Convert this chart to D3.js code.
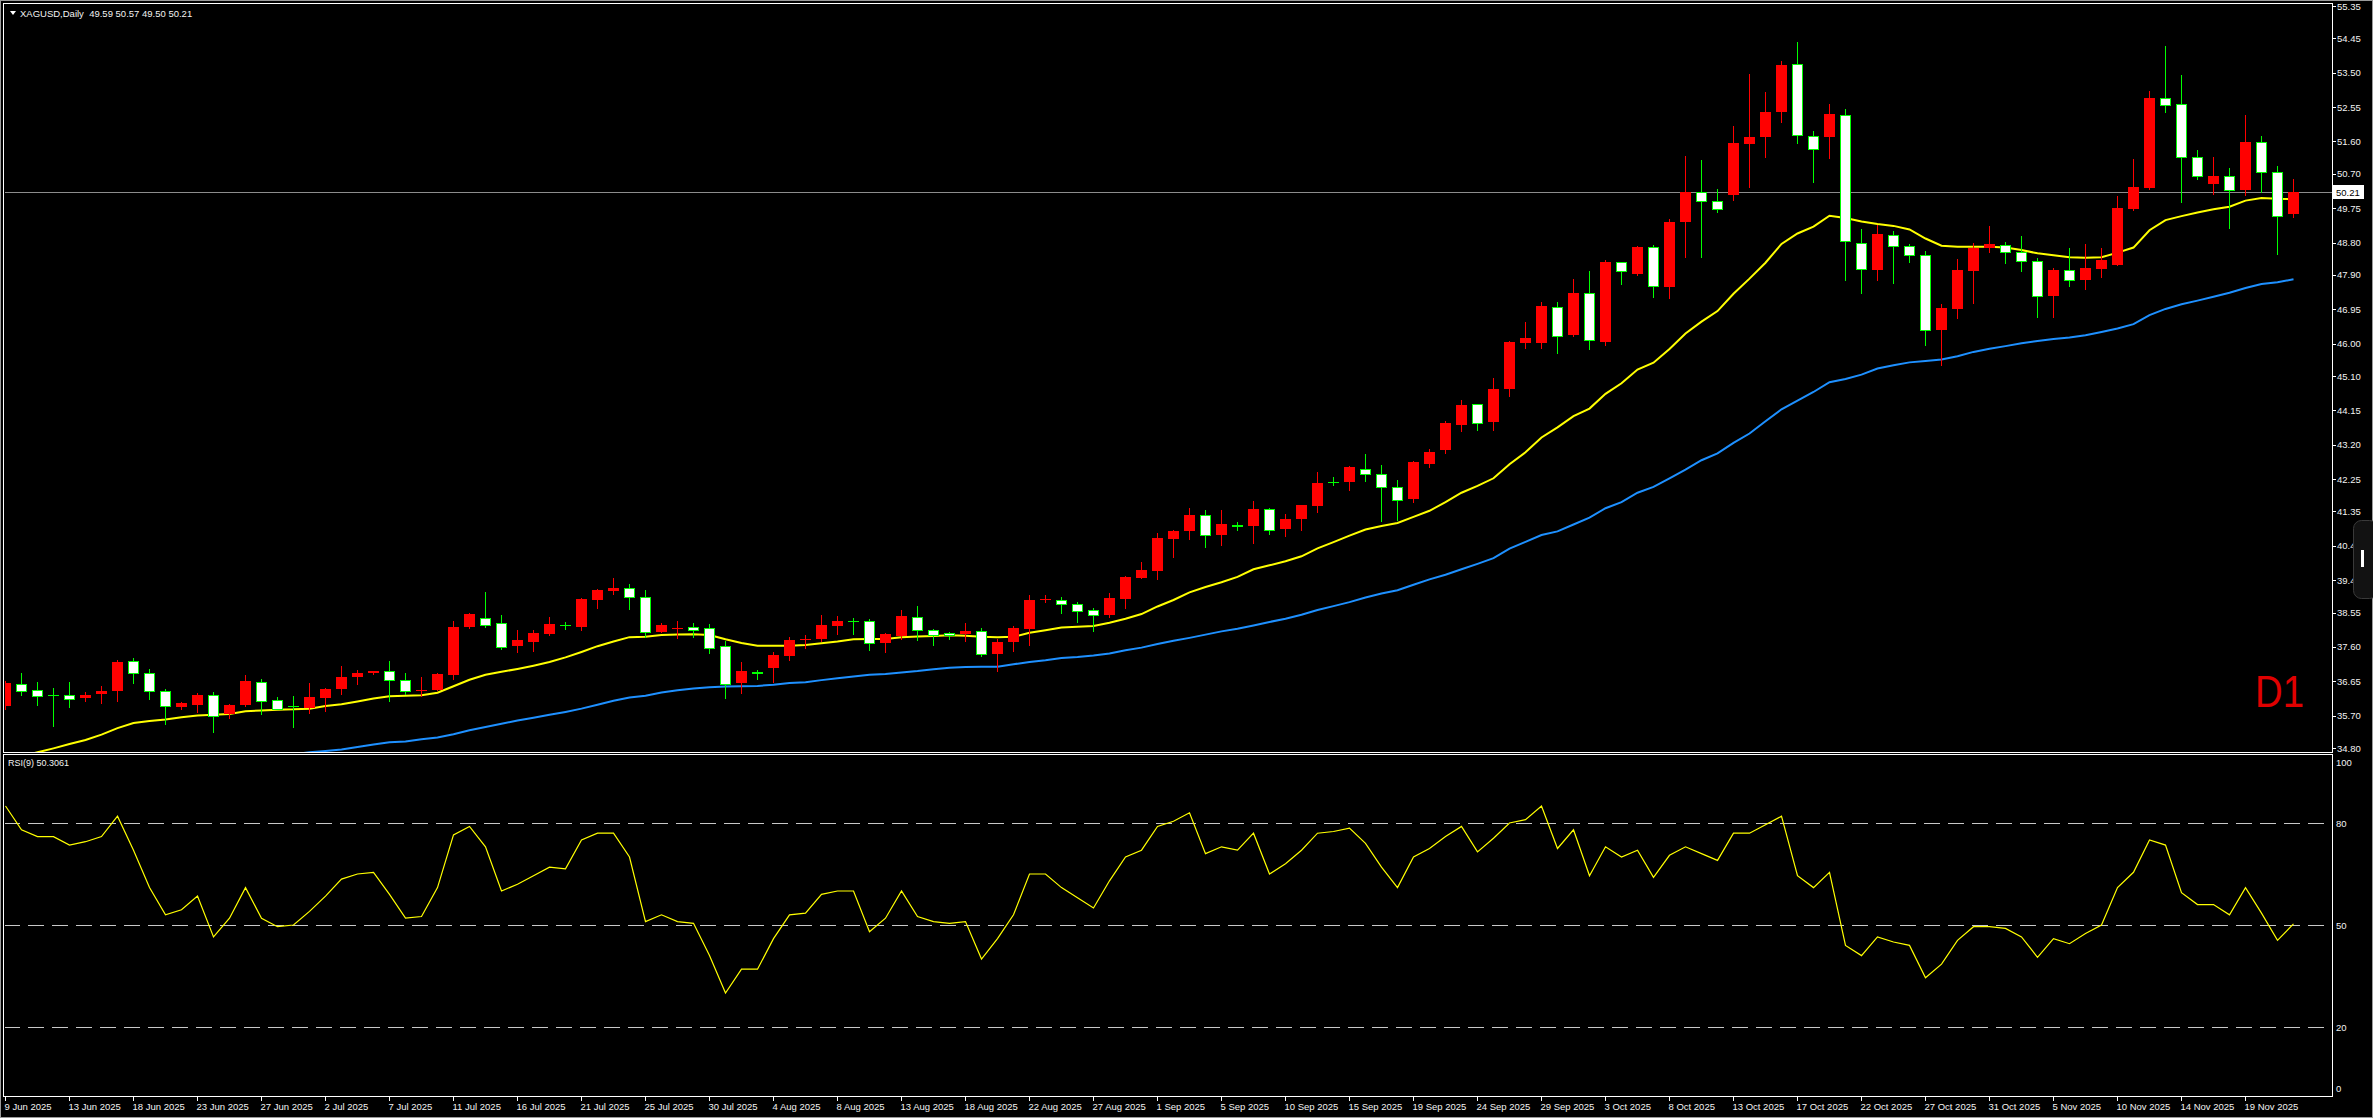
<!DOCTYPE html>
<html><head><meta charset="utf-8">
<script src="https://cdn.jsdelivr.net/npm/d3@7"></script>
<style>html,body{margin:0;padding:0;background:#000;overflow:hidden}svg{display:block}</style>
</head><body><svg id="c" width="2373" height="1118"></svg>
<script>
// ---------------- DATA ----------------
const opens=[35.97,36.58,36.42,36.27,36.26,36.19,36.30,36.39,37.20,36.89,36.37,35.94,36.00,36.28,35.74,35.99,36.64,36.12,35.96,35.91,
36.19,36.44,36.76,36.87,36.92,36.67,36.39,36.41,36.82,38.15,38.39,38.25,37.63,37.74,37.96,38.22,38.15,38.91,39.14,39.22,
38.97,38.02,38.10,38.14,38.11,37.62,36.60,36.90,37.02,37.35,37.82,37.82,38.18,38.32,38.33,37.71,37.90,38.44,38.06,37.98,
37.96,38.03,37.41,37.74,38.09,38.91,38.91,38.78,38.61,38.49,38.92,39.51,39.71,40.59,40.82,41.24,40.71,40.97,40.95,41.41,
40.87,41.15,41.51,42.18,42.17,42.54,42.40,42.02,41.69,42.67,43.04,43.75,44.32,43.82,44.73,46.02,46.02,47.01,46.23,47.39,
46.04,48.27,47.93,48.67,47.58,49.36,50.21,49.96,50.12,51.54,51.73,52.41,53.73,51.76,51.73,52.34,48.80,48.05,49.02,48.69,
48.44,46.38,46.97,48.02,48.65,48.72,48.55,48.28,47.33,48.03,47.77,48.07,48.18,49.73,50.31,52.79,52.63,51.16,50.43,50.63,
50.26,51.57,50.74,49.59];
const highs=[36.65,36.87,36.62,36.45,36.62,36.34,36.52,37.23,37.29,36.99,36.43,36.08,36.32,36.35,36.03,36.82,36.70,36.21,36.24,36.60,
36.47,37.07,36.96,36.94,37.21,36.87,36.76,36.87,38.31,38.55,39.12,38.48,38.07,38.07,38.42,38.29,38.95,39.20,39.51,39.34,
39.17,38.26,38.31,38.26,38.23,37.76,37.18,36.96,37.45,37.87,37.92,38.48,38.45,38.40,38.37,37.98,38.62,38.73,38.10,38.01,
38.26,38.12,37.81,38.19,39.03,39.03,38.98,38.84,38.69,39.09,39.57,39.95,40.75,40.84,41.44,41.39,41.39,41.07,41.64,41.44,
41.28,41.53,42.44,42.30,42.61,42.94,42.63,42.21,42.76,43.08,43.87,44.44,44.32,45.04,46.08,46.60,47.14,47.16,47.79,48.01,
48.31,48.27,48.70,48.72,49.45,51.19,51.08,50.29,52.02,53.46,52.97,53.82,54.35,51.89,52.64,52.49,49.17,49.28,49.12,48.76,
48.56,47.09,48.34,48.78,49.26,48.81,48.98,48.37,48.09,48.66,48.76,48.66,50.09,51.11,52.99,54.24,53.44,51.36,51.17,50.86,
52.33,51.75,50.92,50.57];
const lows=[35.88,36.27,36.00,35.41,35.94,36.11,36.05,36.11,36.60,36.16,35.47,35.89,35.80,35.25,35.64,35.97,35.75,35.87,35.38,35.77,
35.83,36.29,36.58,36.85,36.11,36.29,36.25,36.40,36.72,38.12,38.16,37.55,37.47,37.49,37.93,38.10,38.07,38.67,39.07,38.65,
37.88,38.00,37.85,37.88,37.44,36.19,36.32,36.72,36.62,37.23,37.58,37.76,37.95,37.95,37.51,37.46,37.81,37.79,37.65,37.82,
37.76,37.35,36.94,37.49,37.66,38.85,38.55,38.30,38.05,38.43,38.67,39.51,39.49,40.10,40.59,40.37,40.43,40.84,40.48,40.73,
40.68,40.84,41.34,42.08,41.94,42.19,41.08,41.11,41.62,42.59,42.98,43.59,43.61,43.61,44.56,45.89,45.89,45.75,46.20,45.86,
45.97,47.65,47.91,47.30,47.27,48.40,48.40,49.65,49.98,50.34,51.17,52.15,51.56,50.48,51.14,47.76,47.40,47.76,47.69,48.27,
45.97,45.41,46.72,47.13,48.54,48.24,48.02,46.74,46.74,47.60,47.52,47.85,48.18,49.70,50.29,52.41,49.93,50.56,50.15,49.21,
50.12,50.20,48.49,49.50];
const closes=[36.61,36.39,36.25,36.26,36.17,36.26,36.37,37.18,36.87,36.37,35.95,36.04,36.26,35.68,35.99,36.65,36.09,35.89,35.95,36.21,
36.43,36.76,36.87,36.92,36.67,36.37,36.40,36.85,38.15,38.51,38.22,37.60,37.79,37.98,38.23,38.21,38.92,39.17,39.23,38.97,
38.02,38.20,38.11,38.08,37.58,36.58,36.93,36.89,37.37,37.79,37.83,38.20,38.31,38.31,37.71,37.95,38.45,38.06,37.94,37.94,
38.04,37.41,37.73,38.12,38.90,38.92,38.78,38.60,38.47,38.95,39.53,39.73,40.61,40.81,41.25,40.71,40.99,40.96,41.42,40.85,
41.14,41.53,42.14,42.17,42.58,42.38,42.02,41.68,42.72,43.00,43.80,44.30,43.79,44.75,46.04,46.16,47.04,46.22,47.40,46.09,
48.26,48.00,48.67,47.59,49.36,50.20,49.94,49.74,51.56,51.72,52.41,53.71,51.79,51.38,52.36,48.83,48.06,49.04,48.69,48.44,
46.39,46.98,48.04,48.66,48.76,48.53,48.28,47.33,48.04,47.75,48.09,48.31,49.75,50.34,52.80,52.60,51.16,50.63,50.64,50.26,
51.57,50.74,49.54,50.21];
// yellow moving average (values below 34.80 are off-scale)
const maFast=[34.45,34.58,34.68,34.79,34.91,35.02,35.17,35.35,35.49,35.55,35.59,35.65,35.70,35.72,35.74,35.82,35.84,35.86,35.87,35.89,
35.96,36.01,36.09,36.17,36.23,36.25,36.26,36.33,36.51,36.69,36.83,36.91,36.99,37.08,37.18,37.31,37.46,37.62,37.75,37.87,
37.88,37.93,37.94,37.95,37.93,37.81,37.71,37.63,37.63,37.63,37.65,37.70,37.75,37.81,37.82,37.82,37.87,37.89,37.90,37.92,
37.91,37.88,37.87,37.88,37.99,38.06,38.14,38.16,38.18,38.27,38.38,38.51,38.72,38.90,39.11,39.26,39.39,39.54,39.75,39.86,
39.97,40.11,40.33,40.50,40.68,40.85,40.95,41.03,41.20,41.37,41.61,41.87,42.06,42.27,42.66,42.99,43.40,43.68,43.99,44.20,
44.61,44.90,45.28,45.47,45.85,46.28,46.61,46.90,47.38,47.80,48.24,48.76,49.05,49.24,49.54,49.48,49.38,49.31,49.26,49.16,
48.91,48.71,48.68,48.68,48.68,48.66,48.59,48.50,48.45,48.39,48.38,48.39,48.52,48.66,49.14,49.42,49.53,49.63,49.72,49.79,
49.96,50.03,50.01,50.00];
// blue moving average
const maSlow=[null,null,null,null,null,null,null,null,null,null,null,null,null,null,null,null,null,34.58,34.63,34.68,
34.72,34.76,34.83,34.90,34.96,34.98,35.04,35.09,35.18,35.29,35.38,35.47,35.56,35.64,35.72,35.80,35.89,36.00,36.11,36.20,
36.25,36.34,36.40,36.45,36.48,36.50,36.51,36.52,36.55,36.60,36.62,36.68,36.73,36.78,36.83,36.85,36.89,36.93,36.98,37.02,
37.04,37.05,37.05,37.12,37.18,37.23,37.29,37.32,37.36,37.42,37.51,37.58,37.68,37.77,37.85,37.94,38.03,38.10,38.19,38.29,
38.38,38.49,38.62,38.73,38.84,38.97,39.08,39.17,39.32,39.47,39.60,39.75,39.90,40.06,40.32,40.51,40.70,40.80,40.99,41.18,
41.44,41.61,41.87,42.03,42.27,42.51,42.77,42.96,43.25,43.51,43.85,44.18,44.42,44.66,44.93,45.02,45.14,45.31,45.40,45.48,
45.52,45.56,45.65,45.77,45.86,45.93,46.01,46.07,46.13,46.17,46.23,46.32,46.42,46.54,46.79,46.96,47.09,47.19,47.30,47.41,
47.54,47.65,47.70,47.78];
// RSI(9)
const rsi=[85,78,76,76,73.5,74.5,76,82,72,61,53,54.5,58.5,46.5,52,61,52,49.5,50,54,
58.5,63.5,65,65.5,59,52,52.5,61,76.5,79,73,60,62,64.5,67,66.5,75,77,77,70,
51,53,51,50.5,41,30,37,37,46,53,53.5,59,60,60,48,52,60,52.5,51,50.5,
51,40,46,53,65,65,61,58,55,63,70,72,79,80.5,83,71,73,72,77,65,
68,72,77,77.5,78.5,74,67,61,70,72.5,76,79,71.5,75.5,80,81,85,72.5,78,64.5,
73,70,72,64,70.5,73,71,69,77,77,79.5,82,64.5,61,65.5,44,41,46.5,45,44,
34.5,38.5,45.5,49.5,49.5,49,46.5,40.5,46,44.5,47.5,50,61,65.5,75,73.5,59.5,56,56,53,
61,53.5,45.5,50.31];
const dateLabels=["9 Jun 2025","13 Jun 2025","18 Jun 2025","23 Jun 2025","27 Jun 2025","2 Jul 2025","7 Jul 2025","11 Jul 2025",
"16 Jul 2025","21 Jul 2025","25 Jul 2025","30 Jul 2025","4 Aug 2025","8 Aug 2025","13 Aug 2025","18 Aug 2025","22 Aug 2025",
"27 Aug 2025","1 Sep 2025","5 Sep 2025","10 Sep 2025","15 Sep 2025","19 Sep 2025","24 Sep 2025","29 Sep 2025","3 Oct 2025",
"8 Oct 2025","13 Oct 2025","17 Oct 2025","22 Oct 2025","27 Oct 2025","31 Oct 2025","5 Nov 2025","10 Nov 2025","14 Nov 2025","19 Nov 2025"];
const priceTicks=[55.35,54.45,53.50,52.55,51.60,50.70,49.75,48.80,47.90,46.95,46.00,45.10,44.15,43.20,42.25,41.35,40.40,39.45,38.55,37.60,36.65,35.70,34.80];
const rsiTicks=[100,80,50,20,0];
const rsiLevels=[80,50,20];
const symbolTitle="XAGUSD,Daily";
const lastPrice=50.21;
const rsiTitle="RSI(9) 50.3061";
const tfLabel="D1";

// ---------------- LAYOUT ----------------
const svg=d3.select('#c');
const FONT="'Liberation Sans', Arial, sans-serif";
const L=4,R=2332,mT=4,mB=752,rT=755,rB=1096;
const x=d3.scaleLinear().domain([0,1]).range([5.5,21.5]);
const y=d3.scaleLinear().domain([34.80,55.35]).range([748,6]);
const yr=d3.scaleLinear().domain([0,100]).range([1095,755]);
const n=closes.length;
const bars=d3.range(n).map(i=>({i,o:opens[i],h:highs[i],l:lows[i],c:closes[i]}));

svg.append('rect').attr('width',2373).attr('height',1118).attr('fill','#000');
const defs=svg.append('defs');
defs.append('clipPath').attr('id','cm').append('rect').attr('x',L+1).attr('y',mT+1).attr('width',R-L-1).attr('height',mB-mT-1);
defs.append('clipPath').attr('id','cr').append('rect').attr('x',L+1).attr('y',rT+1).attr('width',R-L-1).attr('height',rB-rT-1);

// frames
svg.append('rect').attr('x',0.5).attr('y',0.5).attr('width',2372).attr('height',1117).attr('fill','none').attr('stroke','#9a9a9a');
svg.append('rect').attr('x',L-0.5).attr('y',mT-0.5).attr('width',R-L+1).attr('height',mB-mT+1).attr('fill','none').attr('stroke','#fff');
svg.append('rect').attr('x',L-0.5).attr('y',rT-0.5).attr('width',R-L+1).attr('height',rB-rT+1).attr('fill','none').attr('stroke','#fff');

// main chart
const gm=svg.append('g').attr('clip-path','url(#cm)');
gm.append('line').attr('x1',L).attr('x2',R).attr('y1',Math.round(y(lastPrice))+0.5).attr('y2',Math.round(y(lastPrice))+0.5).attr('stroke','#8c8c8c');

const lineM=arr=>d3.line().defined(d=>d!=null).x((d,i)=>x(i)).y(d=>y(d))(arr);
gm.append('path').attr('d',lineM(maSlow)).attr('fill','none').attr('stroke','#1e90ff').attr('stroke-width',2);
gm.append('path').attr('d',lineM(maFast)).attr('fill','none').attr('stroke','#ffff00').attr('stroke-width',2);

const cg=gm.selectAll('g.bar').data(bars).join('g').attr('class','bar');
cg.append('line').attr('x1',d=>x(d.i)).attr('x2',d=>x(d.i))
  .attr('y1',d=>Math.round(y(d.h))).attr('y2',d=>Math.round(y(d.l))+1)
  .attr('stroke',d=>d.c>d.o?'#ff0000':'#00ff00');
cg.filter(d=>d.c>d.o).append('rect')
  .attr('x',d=>x(d.i)-5.5).attr('width',11)
  .attr('y',d=>Math.round(y(d.c))).attr('height',d=>Math.max(1,Math.round(y(d.o))-Math.round(y(d.c))))
  .attr('fill','#ff0000');
cg.filter(d=>d.c<=d.o).append('rect')
  .attr('x',d=>x(d.i)-5).attr('width',10)
  .attr('y',d=>Math.round(y(d.o))+0.5).attr('height',d=>Math.max(0.01,Math.round(y(d.c))-Math.round(y(d.o))))
  .attr('fill','#fff').attr('stroke','#00ff00').attr('stroke-width',1);

// price axis
const pa=svg.append('g').attr('font-family',FONT).attr('font-size',9.5).attr('fill','#f2f2f2');
pa.selectAll('line').data(priceTicks).join('line')
  .attr('x1',R).attr('x2',R+4).attr('y1',d=>Math.round(y(d))+0.5).attr('y2',d=>Math.round(y(d))+0.5).attr('stroke','#fff');
pa.selectAll('text').data(priceTicks).join('text')
  .attr('x',R+5).attr('y',d=>y(d)+3.5).text(d=>d.toFixed(2));
const ly=Math.round(y(lastPrice));
svg.append('rect').attr('x',R+1).attr('y',ly-7).attr('width',31).attr('height',14).attr('fill','#fff');
svg.append('text').attr('x',R+4).attr('y',ly+4).attr('font-family',FONT).attr('font-size',9.5).attr('fill','#000').text(lastPrice.toFixed(2));

// header
svg.append('path').attr('d','M10,11 L16,11 L13,15 Z').attr('fill','#fff');
svg.append('text').attr('x',20).attr('y',17).attr('font-family',FONT).attr('font-size',9.5).attr('fill','#f2f2f2')
  .attr('xml:space','preserve')
  .text(symbolTitle+'  '+[opens[n-1],highs[n-1],lows[n-1],closes[n-1]].map(v=>v.toFixed(2)).join(' '));
// timeframe label
svg.append('text').attr('x',2255).attr('y',707).attr('font-family',FONT)
  .attr('font-size',44).attr('textLength',49).attr('lengthAdjust','spacingAndGlyphs').attr('fill','#e00000').text(tfLabel);

// scroll grip
svg.append('rect').attr('x',2353.5).attr('y',520.5).attr('width',24).attr('height',78).attr('rx',8).attr('fill','#121212').attr('stroke','#3a3a3a');
svg.append('rect').attr('x',2361).attr('y',550).attr('width',3).attr('height',17).attr('fill','#fff');

// RSI panel
const gr=svg.append('g').attr('clip-path','url(#cr)');
gr.selectAll('line.lv').data(rsiLevels).join('line').attr('class','lv')
  .attr('x1',L).attr('x2',R).attr('y1',d=>Math.round(yr(d))+0.5).attr('y2',d=>Math.round(yr(d))+0.5)
  .attr('stroke','#c8c8c8').attr('stroke-dasharray','16,8');
gr.append('path').attr('d',d3.line().x((d,i)=>x(i)).y(d=>yr(d))(rsi)).attr('fill','none').attr('stroke','#ffff00').attr('stroke-width',1.2);
svg.append('text').attr('x',8).attr('y',766).attr('font-family',FONT).attr('font-size',9).attr('fill','#f2f2f2').text(rsiTitle);
svg.append('g').attr('font-family',FONT).attr('font-size',9.5).attr('fill','#f2f2f2')
  .selectAll('text').data(rsiTicks).join('text')
  .attr('x',R+4).attr('y',d=>Math.min(rB-8,Math.max(rT+7,yr(d)))+3.5).text(d=>d);

// time axis
const ta=svg.append('g').attr('font-family',FONT).attr('font-size',9.5).attr('fill','#f2f2f2');
ta.selectAll('line').data(dateLabels).join('line')
  .attr('x1',(d,k)=>x(k*4)).attr('x2',(d,k)=>x(k*4)).attr('y1',rB).attr('y2',rB+5).attr('stroke','#fff');
ta.selectAll('text').data(dateLabels).join('text')
  .attr('x',(d,k)=>x(k*4)-1).attr('y',1110).text(d=>d);
</script>
</body></html>
